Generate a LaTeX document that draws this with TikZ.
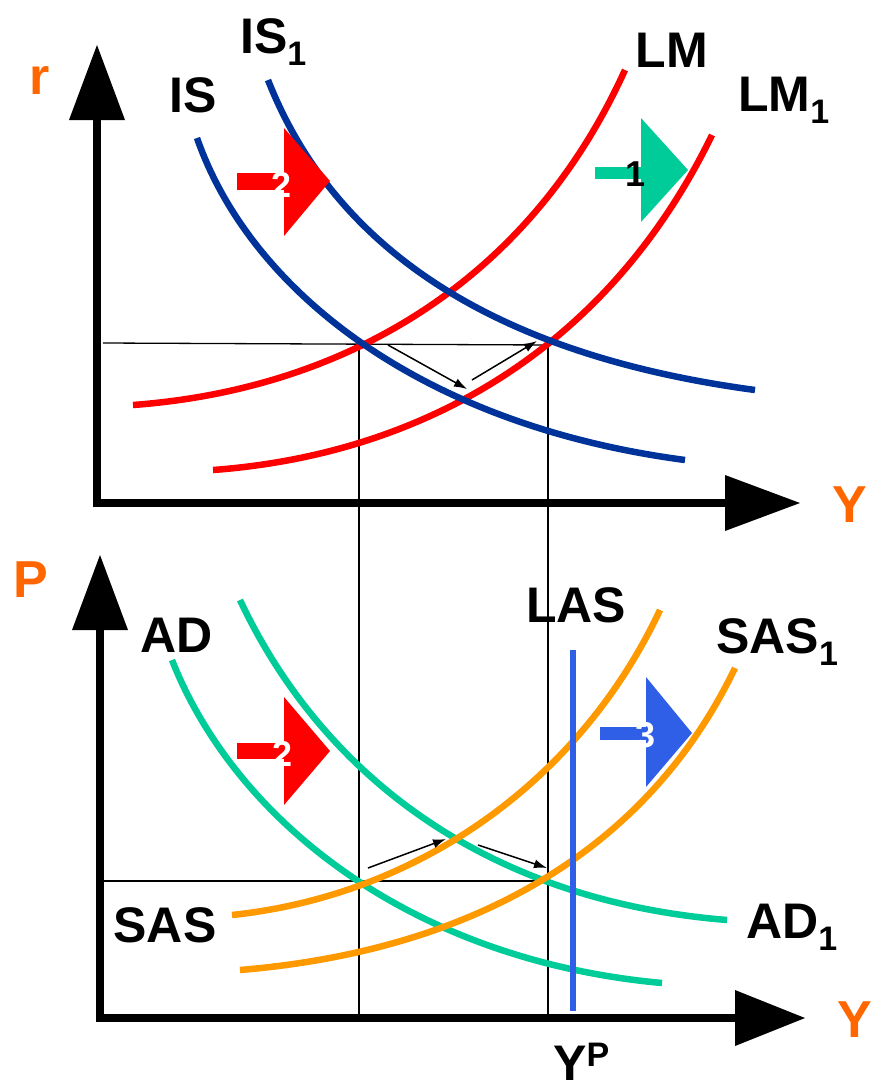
\documentclass[tikz,border=0pt]{standalone}
\usepackage{fontspec}
\setmainfont{Liberation Sans}
\usetikzlibrary{arrows.meta}
\definecolor{isblue}{HTML}{003399}
\definecolor{lmred}{HTML}{FF0000}
\definecolor{adgreen}{HTML}{00CC99}
\definecolor{sasorange}{HTML}{FF9900}
\definecolor{lasblue}{HTML}{2F5FE6}
\definecolor{axorange}{HTML}{FF6600}
\newcommand{\subone}[1]{\raisebox{-12pt}{\fontsize{34}{34}\selectfont #1}}
\begin{document}
\begin{tikzpicture}[x=1pt,y=-1pt,
  curve/.style={line width=6.5pt,line cap=butt},
  thin/.style={line width=1.3pt,black},
  axis/.style={line width=8pt,black},
  lbl/.style={font=\fontsize{50}{50}\bfseries\selectfont,inner sep=0pt},
  axlbl/.style={font=\fontsize{52}{52}\bfseries\selectfont,text=axorange,inner sep=0pt},
  num/.style={font=\fontsize{36}{36}\bfseries\selectfont,inner sep=0pt},
  small/.style={line width=1.5pt,-{Latex[length=13pt,width=9pt]}}
]
\useasboundingbox (0,0) rectangle (874,1085);
% ---------- top panel ----------
\draw[axis] (97,503) -- (97,110);
\fill (97,45) -- (125,120) -- (69,120) -- cycle;
\draw[axis] (93,503) -- (735,503);
\fill (800,503) -- (725,475) -- (725,531) -- cycle;
\node[axlbl] (r) at (40,80) {r};
\node[axlbl] (Y1) at (850,505) {Y};
% thin lines
\draw[thin] (103,343) -- (548,345);
\draw[thin] (359,343) -- (359,1018);
\draw[thin] (548,345) -- (548,1018);
% curves
\draw[curve,lmred] (133,405) .. controls (335,390) and (525,290) .. (625,70);
\draw[curve,lmred] (213,470) .. controls (415,455) and (605,355) .. (712,135);
\draw[curve,isblue] (197,138) .. controls (250,290) and (420,425) .. (685,460);
\draw[curve,isblue] (268,80) .. controls (335,250) and (495,355) .. (755,390);
% small arrows
\draw[small] (388,345) -- (467,389);
\draw[small] (472,380) -- (537,341);
% labels
\node[lbl] (IS) at (193,95) {IS};
\node[lbl,anchor=west] (IS1) at (240,42) {IS\subone{1}};
\node[lbl] (LM) at (672,50) {LM};
\node[lbl,anchor=west] (LM1) at (738,100) {LM\subone{1}};
% shift arrows
\fill[lmred] (237,173) rectangle (287,190);
\fill[lmred] (284,128) -- (330,181) -- (284,236) -- cycle;
\node[num,text=white] (n2a) at (282,185) {2};
\fill[adgreen] (595,167) rectangle (642,179);
\fill[adgreen] (641,118) -- (688,170) -- (641,222) -- cycle;
\node[num] (n1) at (636,174) {1};
% ---------- bottom panel ----------
\draw[axis] (100,1018) -- (100,620);
\fill (100,555) -- (128,630) -- (72,630) -- cycle;
\draw[axis] (96,1018) -- (740,1018);
\fill (805,1018) -- (735,990) -- (735,1046) -- cycle;
\node[axlbl] (P) at (31,580) {P};
\node[axlbl] (Y2) at (855,1020) {Y};
\draw[thin] (103,881) -- (548,881);
% curves
\draw[curve,adgreen] (172,660) .. controls (235,820) and (410,960) .. (662,983);
\draw[curve,adgreen] (240,600) .. controls (320,770) and (480,900) .. (727,920);
\draw[curve,sasorange] (232,915) .. controls (420,895) and (580,780) .. (660,610);
\draw[curve,sasorange] (240,970) .. controls (480,950) and (650,845) .. (735,668);
\draw[line width=6.5pt,lasblue] (573,650) -- (573,1011);
% small arrows
\draw[small] (368,868) -- (446,839);
\draw[small] (478,845) -- (547,868);
% labels
\node[lbl] (AD) at (177,635) {AD};
\node[lbl] (LAS) at (576,605) {LAS};
\node[lbl,anchor=west] (SAS1) at (716,642) {SAS\subone{1}};
\node[lbl] (SAS) at (165,925) {SAS};
\node[lbl,anchor=west] (AD1) at (746,927) {AD\subone{1}};
\node[lbl,anchor=base west] (YP) at (553,1080) {Y\raisebox{14pt}{\fontsize{34}{34}\selectfont P}};
% shift arrows
\fill[lmred] (237,743) rectangle (287,759);
\fill[lmred] (284,697) -- (330,751) -- (284,805) -- cycle;
\node[num,text=white] (n2b) at (283,754) {2};
\fill[lasblue] (600,727) rectangle (648,740);
\fill[lasblue] (646,677) -- (692,733) -- (646,787) -- cycle;
\node[num,text=white] (n3) at (646,735) {3};
\end{tikzpicture}
\end{document}
